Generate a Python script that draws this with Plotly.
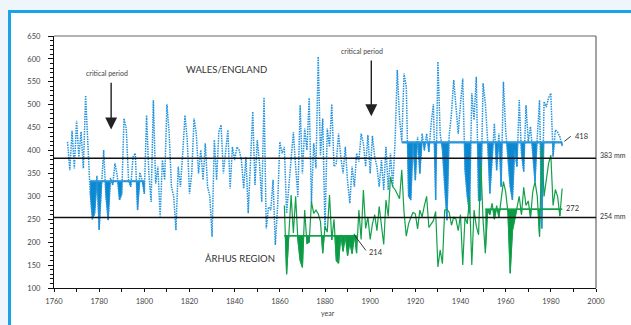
import plotly.graph_objects as go

# ---------------- data ----------------
we_years = list(range(1766, 1986))
we_values = (
    [419, 357, 443, 361]
    + [465, 386, 441, 361, 520, 394, 310, 250, 262, 345]
    + [227, 320, 401, 300, 248, 340, 325, 372, 345, 292]
    + [305, 470, 448, 336, 321, 386, 394, 270, 352, 336]
    + [306, 477, 350, 288, 510, 328, 365, 256, 379, 336]
    + [501, 437, 321, 300, 226, 365, 321, 394, 477, 423]
    + [306, 350, 470, 437, 350, 401, 336, 416, 321, 300]
    + [212, 423, 336, 441, 456, 350, 401, 445, 317, 408]
    + [379, 408, 401, 379, 317, 386, 263, 372, 485, 325]
    + [423, 372, 288, 516, 230, 277, 270, 336, 194, 277]
    + [419, 394, 408, 263, 328, 372, 440, 365, 299, 499]
    + [350, 448, 401, 515, 285, 416, 361, 605, 390, 470]
    + [226, 448, 408, 501, 365, 372, 437, 386, 350, 408]
    + [332, 285, 365, 321, 394, 376, 437, 416, 365, 434]
    + [350, 432, 386, 365, 321, 379, 314, 408, 314, 394]
    + [321, 416, 576, 470, 420, 568, 539, 300, 292, 416]
    + [335, 430, 350, 437, 400, 437, 397, 459, 501, 292]
    + [594, 437, 401, 321, 248, 434, 481, 554, 496, 437]
    + [503, 557, 357, 300, 263, 525, 467, 561, 290, 292]
    + [547, 503, 423, 306, 380, 459, 357, 437, 321, 550]
    + [445, 386, 321, 292, 401, 365, 510, 394, 354, 499]
    + [420, 452, 394, 332, 430, 510, 230, 507, 495, 515]
    + [525, 387, 445, 440, 430, 410]
)

aa_years = list(range(1862, 1986))
aa_values = (
    [280, 130, 218, 303, 220, 300, 205, 160]
    + [145, 270, 197, 200, 288, 263, 270, 262, 245, 176]
    + [234, 222, 303, 205, 250, 160, 154, 216, 180, 215]
    + [170, 200, 175, 218, 176, 270, 206, 314, 230, 255]
    + [206, 240, 260, 225, 278, 230, 195, 292, 256, 343]
    + [321, 315, 303, 295, 358, 265, 213, 240, 254, 265]
    + [262, 229, 270, 255, 280, 300, 232, 240, 247, 267]
    + [146, 183, 153, 270, 272, 265, 237, 255, 250, 225]
    + [260, 150, 255, 240, 299, 150, 270, 235, 216, 375]
    + [247, 176, 270, 260, 285, 250, 280, 254, 290, 332]
    + [310, 265, 132, 225, 250, 275, 300, 260, 320, 280]
    + [290, 254, 310, 332, 300, 212, 410, 300, 340, 372]
    + [390, 280, 315, 300, 257, 317]
)

# deficit periods: (start year, end year, baseline mm)
we_periods = [(1776, 1800, 333), (1914, 1985, 418)]
aa_periods = [(1862, 1894, 214), (1951, 1985, 272)]

ref_levels = [383, 254]
ref_labels = ["383 mm", "254 mm"]

x_ticks = list(range(1760, 2001, 20))
y_ticks = list(range(100, 651, 50))

BLUE_LINE = "#2293dc"
BLUE_FILL = "#0b88d0"
BLUE_BASE = "#2b96da"
GREEN = "#12a04a"
GREEN_FILL = "#0a9a44"
PAPER = "#eef6fc"


def deficit_polygon(xs, ys, base, x0, x1):
    pts = [(x, y) for x, y in zip(xs, ys) if x0 <= x <= x1]
    px, py = [], []
    for i, (x, y) in enumerate(pts):
        if i > 0:
            xp, yp = pts[i - 1]
            if (yp - base) * (y - base) < 0:
                t = (base - yp) / (y - yp)
                px.append(xp + t * (x - xp))
                py.append(base)
        px.append(x)
        py.append(min(y, base))
    return px + [px[-1], px[0]], py + [base, base]


fig = go.Figure()

for (a, b, base) in we_periods:
    px, py = deficit_polygon(we_years, we_values, base, a, b)
    fig.add_trace(go.Scatter(x=px, y=py, mode="lines", fill="toself",
                             fillcolor=BLUE_FILL, line=dict(width=0.8, color=BLUE_FILL),
                             hoverinfo="skip", showlegend=False))

fig.add_trace(go.Scatter(x=we_years, y=we_values, mode="lines",
                         line=dict(color=BLUE_LINE, width=1.5, dash="1.5px,1px"),
                         showlegend=False))

for (a, b, base) in we_periods:
    fig.add_trace(go.Scatter(x=[a, b], y=[base, base], mode="lines",
                             line=dict(color=BLUE_BASE, width=2.2),
                             hoverinfo="skip", showlegend=False))

for (a, b, base) in aa_periods:
    px, py = deficit_polygon(aa_years, aa_values, base, a, b)
    fig.add_trace(go.Scatter(x=px, y=py, mode="lines", fill="toself",
                             fillcolor=GREEN_FILL, line=dict(width=0.8, color=GREEN_FILL),
                             hoverinfo="skip", showlegend=False))
    fig.add_trace(go.Scatter(x=[a, b], y=[base, base], mode="lines",
                             line=dict(color=GREEN, width=1.6),
                             hoverinfo="skip", showlegend=False))

fig.add_trace(go.Scatter(x=aa_years, y=aa_values, mode="lines",
                         line=dict(color=GREEN, width=1.2),
                         showlegend=False))

# ---------------- layout ----------------
L, R, T, B = 54, 35, 36, 37
W, H = 631, 325
pw = W - L - R
ph = H - T - B


def px2paper_x(px):
    return (px - L) / pw


def px2paper_y(py):
    return (H - B - py) / ph


shapes = []
# outer frame (white panel with blue border)
shapes.append(dict(type="rect", xref="paper", yref="paper",
                   x0=px2paper_x(9.5), x1=px2paper_x(700),
                   y0=px2paper_y(400), y1=px2paper_y(11.5),
                   line=dict(color="#1aa3e8", width=3), fillcolor="white", layer="below"))
# top / right border of plotting area
shapes.append(dict(type="line", xref="paper", yref="paper", x0=0, x1=1, y0=1, y1=1,
                   line=dict(color="#666", width=1.2)))
shapes.append(dict(type="line", xref="paper", yref="paper", x0=1, x1=1, y0=0, y1=1,
                   line=dict(color="#666", width=1.2)))
for lv in ref_levels:
    shapes.append(dict(type="line", xref="paper", yref="y", x0=0, x1=1, y0=lv, y1=lv,
                       line=dict(color="#111", width=1.5), layer="above"))
# leader lines
shapes.append(dict(type="line", xref="x", yref="y", x0=1986.0, y0=420, x1=1988.8, y1=431,
                   line=dict(color="#222", width=0.9)))
shapes.append(dict(type="line", xref="x", yref="y", x0=1893.1, y0=215, x1=1898.1, y1=182,
                   line=dict(color="#222", width=0.9)))

font = "Lato, 'Open Sans', sans-serif"
ann = []
for lv, lab, yy in zip(ref_levels, ref_labels, [390, 257]):
    ann.append(dict(x=1.004, xref="paper", y=yy, yref="y", text=lab, showarrow=False,
                    xanchor="left", yanchor="middle", font=dict(size=7, color="#333")))
ann.append(dict(x=1989.6, y=431, xref="x", yref="y", text="418", showarrow=False,
                xanchor="left", yanchor="middle", font=dict(size=7.5, color="#333")))
ann.append(dict(x=1986.0, y=274, xref="x", yref="y", text="272", showarrow=False,
                xanchor="left", yanchor="middle", font=dict(size=7.5, color="#333")))
ann.append(dict(x=1898.4, y=178, xref="x", yref="y", text="214", showarrow=False,
                xanchor="left", yanchor="middle", font=dict(size=7.5, color="#333")))
ann.append(dict(x=1836.3, y=577, xref="x", yref="y", text="WALES/ENGLAND", showarrow=False,
                xanchor="center", font=dict(size=9.5, color="#333")))
ann.append(dict(x=1842.3, y=164, xref="x", yref="y", text="ÅRHUS REGION", showarrow=False,
                xanchor="center", font=dict(size=9.5, color="#333")))
ann.append(dict(x=1783.4, y=569, xref="x", yref="y", text="critical period", showarrow=False,
                xanchor="center", font=dict(size=7, color="#444")))
ann.append(dict(x=1896.6, y=618, xref="x", yref="y", text="critical period", showarrow=False,
                xanchor="center", font=dict(size=7, color="#444")))
ann.append(dict(x=1785.3, y=446, ax=1785.3, ay=551, xref="x", yref="y", axref="x", ayref="y",
                text="", showarrow=True, arrowhead=2, arrowsize=1.7, arrowwidth=1.4,
                arrowcolor="#222"))
ann.append(dict(x=1900.5, y=475, ax=1900.5, ay=600, xref="x", yref="y", axref="x", ayref="y",
                text="", showarrow=True, arrowhead=2, arrowsize=1.7, arrowwidth=1.4,
                arrowcolor="#222"))
ann.append(dict(x=1881.5, xref="x", y=px2paper_y(313), yref="paper", text="year",
                showarrow=False, xanchor="center", yanchor="middle",
                font=dict(size=7, color="#444")))
ann.append(dict(x=1759.0, xref="x", y=672, yref="y", text="mm",
                showarrow=False, xanchor="center", yanchor="middle",
                font=dict(size=6, color="#444")))

fig.update_layout(
    width=W, height=H,
    margin=dict(l=L, r=R, t=T, b=B, pad=0),
    paper_bgcolor=PAPER,
    plot_bgcolor="rgba(0,0,0,0)",
    font=dict(family=font, size=8, color="#333"),
    shapes=shapes,
    annotations=ann,
    showlegend=False,
    xaxis=dict(range=[1760, 2000], tickvals=x_ticks, ticktext=[str(v) for v in x_ticks],
               showgrid=False, zeroline=False, showline=True, linecolor="#111", linewidth=1.3,
               ticks="outside", ticklen=3, tickcolor="#111", tickwidth=1,
               minor=dict(dtick=10, tick0=1760, ticks="outside", ticklen=3, tickcolor="#111"),
               tickfont=dict(size=7.5, color="#444"), ticklabelstandoff=3),
    yaxis=dict(range=[100, 650], tickvals=y_ticks, ticktext=[str(v) for v in y_ticks],
               showgrid=False, zeroline=False, showline=True, linecolor="#111", linewidth=1.3,
               ticks="outside", ticklen=5, tickcolor="#111", tickwidth=1,
               minor=dict(dtick=10, tick0=100, ticks="outside", ticklen=2.5, tickcolor="#111"),
               tickfont=dict(size=7.5, color="#444"), ticklabelstandoff=6),
)

fig.write_html(
    "out.html",
    config={"displayModeBar": False},
    post_script=(
        "document.body.style.margin='0';document.body.style.padding='0';"
        "document.body.style.overflow='hidden';"
        "document.body.style.background='" + PAPER + "';"
        "window.dispatchEvent(new Event('resize'));"
    ),
)
